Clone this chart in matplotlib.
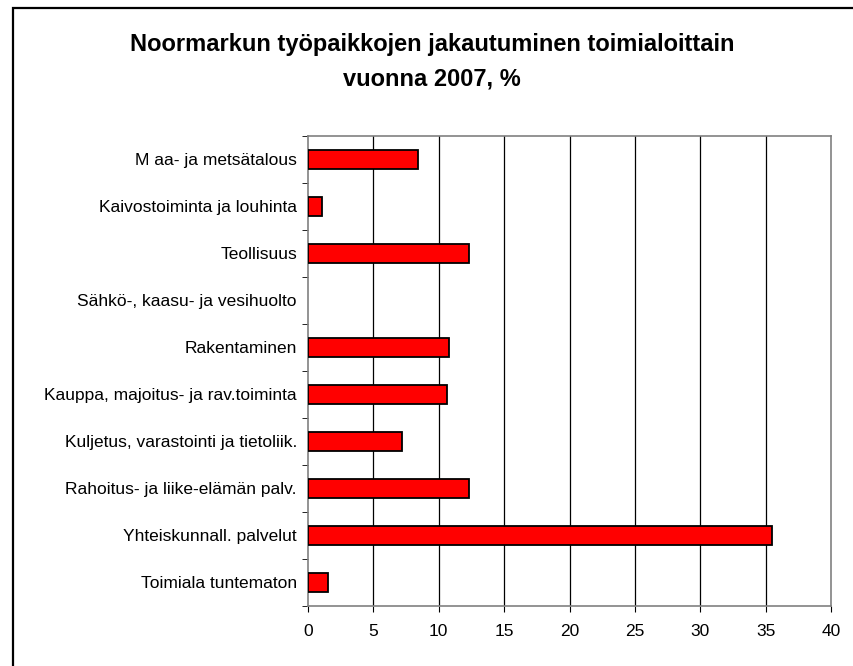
import matplotlib.pyplot as plt
import numpy as np
from matplotlib.patches import Rectangle

plt.rcParams['font.family'] = ['Liberation Sans', 'DejaVu Sans']

categories = [
    "M aa- ja metsätalous",
    "Kaivostoiminta ja louhinta",
    "Teollisuus",
    "Sähkö-, kaasu- ja vesihuolto",
    "Rakentaminen",
    "Kauppa, majoitus- ja rav.toiminta",
    "Kuljetus, varastointi ja tietoliik.",
    "Rahoitus- ja liike-elämän palv.",
    "Yhteiskunnall. palvelut",
    "Toimiala tuntematon",
]
values = [8.4, 1.1, 12.3, 0.0, 10.8, 10.6, 7.2, 12.3, 35.5, 1.5]
x_ticks = [0, 5, 10, 15, 20, 25, 30, 35, 40]

fig = plt.figure(figsize=(8.54, 6.66), dpi=100)
fig.patches.append(Rectangle((13 / 854, -0.1), 1.1, 1 - 8 / 666 + 0.1, transform=fig.transFigure,
                             fill=False, edgecolor='black', linewidth=1.6))

ax = fig.add_axes([308 / 854, 1 - 606 / 666, (831 - 308) / 854, (606 - 136) / 666])
pos = np.arange(len(categories))
# zero values get no outline so nothing shows, like the original
edges = ['black' if v > 0 else 'none' for v in values]
ax.barh(pos, values, height=0.4, color='#ff0000', edgecolor=edges, linewidth=1.3, zorder=3)

ax.set_xlim(0, 40)
ax.set_ylim(len(categories) - 0.5, -0.5)
ax.set_xticks(x_ticks)
ax.set_xticklabels([str(t) for t in x_ticks], fontsize=12.5)
ax.set_yticks(pos)
ax.set_yticklabels(categories, fontsize=12.5)
ax.tick_params(axis='y', length=0, pad=8)
ax.set_yticks(np.arange(len(categories) + 1) - 0.5, minor=True)
ax.tick_params(axis='y', which='minor', length=4, color='black')
ax.tick_params(axis='x', length=4, color='black', pad=9)

for t in x_ticks[1:-1]:
    ax.axvline(t, color='black', linewidth=0.9, zorder=1)
for s in ax.spines.values():
    s.set_color('#808080')
    s.set_linewidth(1.2)

fig.text(432 / 854, 1 - 45 / 666, "Noormarkun työpaikkojen jakautuminen toimialoittain",
         ha='center', va='center', fontsize=17, fontweight='bold')
fig.text(432 / 854, 1 - 79 / 666, "vuonna 2007, %",
         ha='center', va='center', fontsize=17, fontweight='bold')

fig.savefig("out.png", dpi=100)
